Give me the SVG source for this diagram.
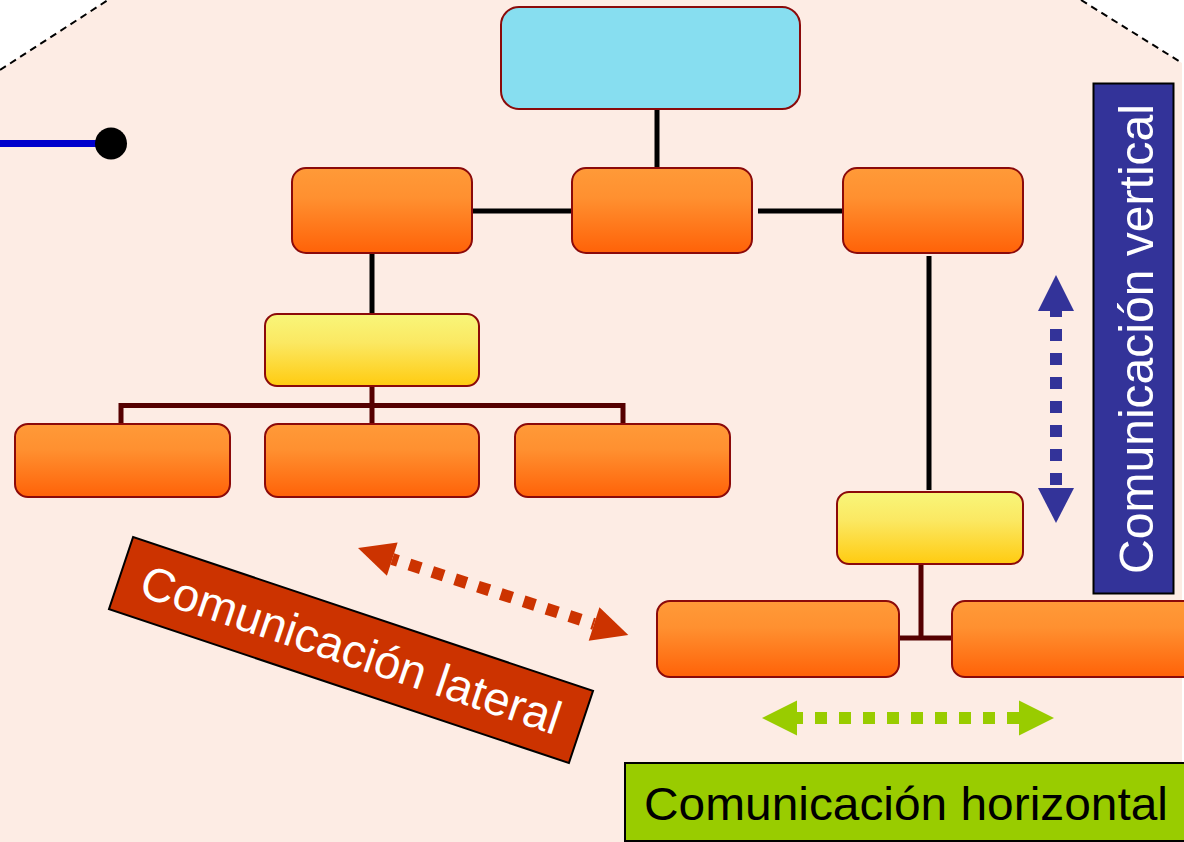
<svg xmlns="http://www.w3.org/2000/svg" width="1184" height="842" viewBox="0 0 1184 842">
  <defs>
    <linearGradient id="gOrange" x1="0" y1="0" x2="0" y2="1">
      <stop offset="0" stop-color="#FF9A38"/>
      <stop offset="0.35" stop-color="#FF9030"/>
      <stop offset="1" stop-color="#FF6208"/>
    </linearGradient>
    <linearGradient id="gYellow" x1="0" y1="0" x2="0" y2="1">
      <stop offset="0" stop-color="#F8F67A"/>
      <stop offset="0.4" stop-color="#FBE862"/>
      <stop offset="1" stop-color="#FFCB10"/>
    </linearGradient>
    <g id="arrowShape">
      <line class="shaft" x1="36" y1="0" x2="0" y2="0"/>
    </g>
  </defs>
  <style>
    .box { stroke: #8B0A0A; stroke-width: 2; }
    .orange { fill: url(#gOrange); }
    .yellow { fill: url(#gYellow); }
    .conn { fill: none; stroke: #000; stroke-width: 5; }
    .conn2 { fill: none; stroke: #550000; stroke-width: 5; }
    .dots { stroke-width: 12; stroke-dasharray: 12 12; stroke-dashoffset: 6; fill: none; }
    .lbl { font-family: "Liberation Sans", Arial, sans-serif; }
  </style>

  <!-- background -->
  <rect x="0" y="0" width="1184" height="842" fill="#FFFFFF"/>
  <polygon points="0,70 108,0 1081,0 1182,63 1182,842 0,842" fill="#FDECE4"/>
  <g fill="none" stroke="#000" stroke-width="2" stroke-dasharray="7 5">
    <line x1="0" y1="70" x2="108" y2="0"/>
    <line x1="1081" y1="0" x2="1182" y2="63"/>
  </g>

  <!-- blue line with dot -->
  <g id="pointer">
    <line x1="0" y1="143.5" x2="100" y2="143.5" stroke="#0000CC" stroke-width="7"/>
    <circle cx="111" cy="143.5" r="16" fill="#000"/>
  </g>

  <!-- connectors -->
  <g id="connectors">
    <path class="conn" d="M657,109 V168"/>
    <path class="conn" d="M472,211 H572"/>
    <path class="conn" d="M758,211 H843"/>
    <path class="conn" d="M372,253 V314"/>
    <path class="conn" d="M929,256 V490"/>
    <path class="conn2" d="M372,386 V424"/>
    <path class="conn2" d="M121,424 V405.5 H623 V424"/>
    <path class="conn2" d="M921,564 V638"/>
    <path class="conn2" d="M899,638 H952"/>
  </g>

  <!-- nodes -->
  <g id="node-top"><rect class="box" x="501" y="7" width="299" height="102" rx="18" fill="#87DEF0"/></g>
  <g id="node-l1"><rect class="box orange" x="292" y="168" width="180" height="85" rx="14"/></g>
  <g id="node-c1"><rect class="box orange" x="572" y="168" width="180" height="85" rx="14"/></g>
  <g id="node-r1"><rect class="box orange" x="843" y="168" width="180" height="85" rx="14"/></g>
  <g id="node-yl"><rect class="box yellow" x="265" y="314" width="214" height="72" rx="12"/></g>
  <g id="node-b1"><rect class="box orange" x="15" y="424" width="215" height="73" rx="13"/></g>
  <g id="node-b2"><rect class="box orange" x="265" y="424" width="214" height="73" rx="13"/></g>
  <g id="node-b3"><rect class="box orange" x="515" y="424" width="215" height="73" rx="13"/></g>
  <g id="node-yr"><rect class="box yellow" x="837" y="492" width="186" height="72" rx="12"/></g>
  <g id="node-br1"><rect class="box orange" x="657" y="601" width="242" height="76" rx="13"/></g>
  <g id="node-br2"><rect class="box orange" x="952" y="601" width="250" height="76" rx="13"/></g>

  <!-- double arrows -->
  <g id="arrow-lateral" transform="translate(358,548) rotate(17.85)" fill="#CC3300">
    <line class="dots" x1="36" y1="0" x2="248" y2="0" stroke="#CC3300"/>
    <polygon points="0,0 36,-17.5 36,17.5"/>
    <polygon points="284,0 248,-17.5 248,17.5"/>
  </g>
  <g id="arrow-horizontal" transform="translate(762,718)" fill="#99CC00">
    <line class="dots" x1="35" y1="0" x2="257" y2="0" stroke="#99CC00"/>
    <polygon points="0,0 35,-17.5 35,17.5"/>
    <polygon points="292,0 257,-17.5 257,17.5"/>
  </g>
  <g id="arrow-vertical" transform="translate(1056,275) rotate(90)" fill="#333399">
    <line class="dots" x1="36" y1="0" x2="213" y2="0" stroke="#333399"/>
    <polygon points="0,0 36,-18 36,18"/>
    <polygon points="248,0 213,-18 213,18"/>
  </g>

  <!-- labels -->
  <g id="label-vertical">
    <rect x="1093.5" y="83.5" width="80" height="510" fill="#333399" stroke="#000" stroke-width="2"/>
    <text class="lbl" transform="translate(1153,574) rotate(-90)" x="0" y="0" font-size="48" fill="#FFFFFF" textLength="470" lengthAdjust="spacingAndGlyphs">Comunicación vertical</text>
  </g>
  <g id="label-lateral" transform="translate(351,650) rotate(18.5)">
    <rect x="-242.5" y="-38" width="485" height="76" fill="#CC3300" stroke="#000" stroke-width="2"/>
    <text class="lbl" x="0" y="16" font-size="47" fill="#FFFFFF" text-anchor="middle" textLength="440" lengthAdjust="spacingAndGlyphs">Comunicación lateral</text>
  </g>
  <g id="label-horizontal">
    <rect x="625" y="763" width="580" height="78" fill="#99CC00" stroke="#000" stroke-width="2"/>
    <text class="lbl" x="644" y="820" font-size="46" fill="#000000" textLength="524" lengthAdjust="spacingAndGlyphs">Comunicación horizontal</text>
  </g>
</svg>
